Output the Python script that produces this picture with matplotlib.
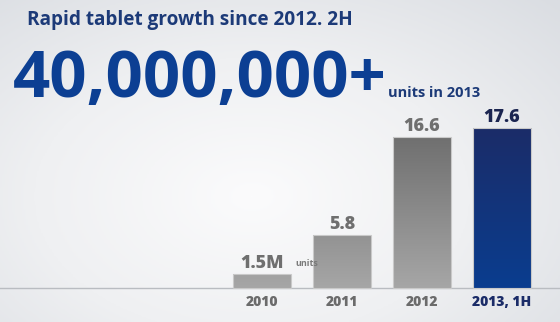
import numpy as np
import matplotlib.pyplot as plt
from matplotlib.colors import LinearSegmentedColormap

plt.rcParams['font.family'] = ['Open Sans', 'DejaVu Sans']

# data
years = ['2010', '2011', '2012', '2013, 1H']
units = [1.5, 5.8, 16.6, 17.6]
value_labels = ['1.5M', '5.8', '16.6', '17.6']

fig = plt.figure(figsize=(5.6, 3.22), dpi=100)
ax = fig.add_axes([0, 0, 1, 1])

# background: soft radial light gray
xlim = (-262 / 80, (560 - 262) / 80)
ylim = (-(322 - 288) / 9.1, 288 / 9.1)
gx, gy = np.meshgrid(np.linspace(-1, 1, 300), np.linspace(-1, 1, 200))
r = np.sqrt((gx + 0.1) ** 2 + (gy * 0.9 + 0.2) ** 2)
bg_cmap = LinearSegmentedColormap.from_list('bg', ['#fbfbfc', '#eff0f2', '#dadde2'])
ax.imshow(r, cmap=bg_cmap, extent=[*xlim, *ylim], aspect='auto', zorder=0, origin='lower')

ax.axhline(0, color='#b9bcc1', lw=1.0, zorder=1)

x = np.arange(len(years))
width = 0.725
bars = ax.bar(x, units, width=width, color='none', edgecolor='#c9c9c9', lw=0.8, zorder=3)

gray_cmap = LinearSegmentedColormap.from_list('g', ['#a6a6a6', '#6c6c6c'])
blue_cmap = LinearSegmentedColormap.from_list('b', ['#0a3d8f', '#1b2c68'])
grad = np.linspace(0, 1, 256).reshape(-1, 1)
for i, b in enumerate(bars):
    cm = blue_cmap if i == 3 else gray_cmap
    # gradient scaled to the tallest bar so short bars stay light
    top = units[i] / max(units)
    im = ax.imshow(grad * top, cmap=cm, vmin=0, vmax=1, aspect='auto', origin='lower',
                   extent=[b.get_x(), b.get_x() + width, 0, units[i]], zorder=2)
    im.set_clip_path(b)

for i, v in enumerate(units):
    col = '#1b2550' if i == 3 else '#6f6f6f'
    ax.annotate(value_labels[i], (x[i], v), xytext=(0, 4.5), textcoords='offset points',
                ha='center', va='baseline', fontsize=13, fontweight='heavy', color=col)
ax.annotate('units', (x[0] + width / 2, units[0]), xytext=(3, 6), textcoords='offset points',
            ha='left', va='baseline', fontsize=6.5, fontweight='bold', color='#7a7a7a')

for i, yr in enumerate(years):
    col = '#1b2c68' if i == 3 else '#6b6b6b'
    ax.text(x[i], -1.98, yr, ha='center', va='baseline', fontsize=10, fontweight='heavy', color=col)

ax.set_xlim(*xlim)
ax.set_ylim(*ylim)
ax.axis('off')

fig.text(27 / 560, 1 - 25 / 322, 'Rapid tablet growth since 2012. 2H', fontsize=13.7,
         fontweight='bold', color='#1c3a78', ha='left', va='baseline')
fig.text(13 / 560, 1 - 97 / 322, '40,000,000+', fontsize=47, fontweight='bold',
         color='#0c3f93', ha='left', va='baseline')
fig.text(388 / 560, 1 - 97 / 322, 'units in 2013', fontsize=10.5, fontweight='bold',
         color='#1c3a78', ha='left', va='baseline')

fig.savefig('out.png', dpi=100)
